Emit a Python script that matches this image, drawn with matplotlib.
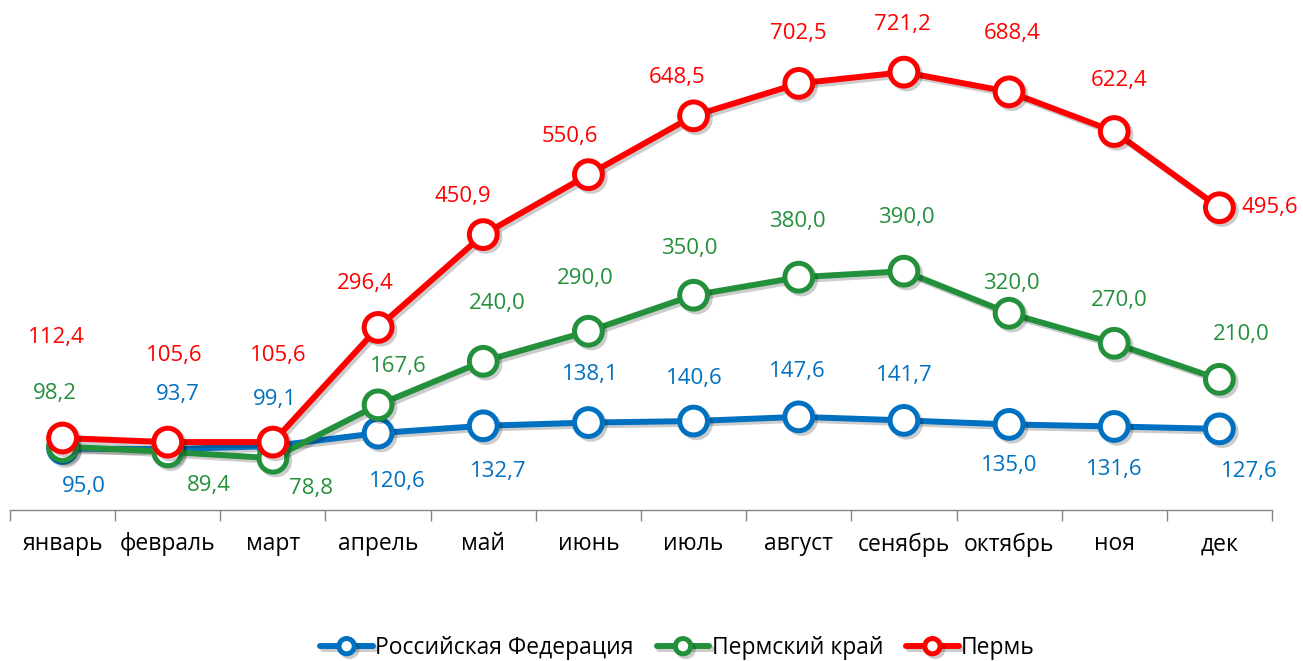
import matplotlib.pyplot as plt
import matplotlib.patheffects as pe
import numpy as np

months = ['январь', 'февраль', 'март', 'апрель', 'май', 'июнь',
          'июль', 'август', 'сенябрь', 'октябрь', 'ноя', 'дек']
rf = [95.0, 93.7, 99.1, 120.6, 132.7, 138.1, 140.6, 147.6, 141.7, 135.0, 131.6, 127.6]
perm_krai = [98.2, 89.4, 78.8, 167.6, 240.0, 290.0, 350.0, 380.0, 390.0, 320.0, 270.0, 210.0]
perm = [112.4, 105.6, 105.6, 296.4, 450.9, 550.6, 648.5, 702.5, 721.2, 688.4, 622.4, 495.6]

names = ['Российская Федерация', 'Пермский край', 'Пермь']
colors = ['#0070C0', '#23903C', '#FF0000']

# label offsets in pixels (dx, dy) relative to the marker, as Excel placed them
off_rf = [(21, -38), (10, 55), (2, 47), (19, -48), (15, -46), (2, 48),
          (1, 43), (-1, 45), (0, 45), (0, -41), (0, -43), (30, -43)]
off_krai = [(-8, 53), (41, -34), (38, -30), (20, 38), (14, 58), (-3, 53),
            (-4, 47), (-1, 56), (2, 54), (2, 30), (5, 43), (22, 45)]
off_perm = [(-6, 101), (6, 87), (5, 87), (-13, 44), (-20, 38), (-19, 38),
            (-17, 38), (0, 50), (-2, 48), (3, 58), (5, 51), (22, 0)]

plt.rcParams['font.family'] = ['Open Sans', 'DejaVu Sans']

fig = plt.figure(figsize=(13.03, 6.61), dpi=100)
W, H = 1303, 661
ax = fig.add_axes([10 / W, (H - 510) / H, 1262 / W, 490 / H])

x = np.arange(len(months))
shadow = [pe.SimpleLineShadow(offset=(2, -2), alpha=0.2, shadow_color='black'), pe.Normal()]

series = [rf, perm_krai, perm]
offsets = [off_rf, off_krai, off_perm]
for i, (vals, c, name) in enumerate(zip(series, colors, names)):
    ax.plot(x, vals, color=c, lw=4.3, marker='o', ms=20, mfc='white',
            mec=c, mew=3.6, label=name, zorder=3 + i, path_effects=shadow,
            solid_capstyle='round')
    for xi, v, (dx, dy) in zip(x, vals, offsets[i]):
        txt = ('%.1f' % v).replace('.', ',')
        last_red = (i == 2 and xi == 11)
        ax.annotate(txt, (xi, v), xytext=(dx * 0.72, dy * 0.72),
                    textcoords='offset points', ha='left' if last_red else 'center',
                    va='center', color=c, fontsize=16, zorder=10)

ax.set_xlim(-0.5, 11.5)
ax.set_ylim(-7.4, 808)
for s in ['top', 'right', 'left']:
    ax.spines[s].set_visible(False)
ax.spines['bottom'].set_color('#868686')
ax.spines['bottom'].set_linewidth(1)
ax.set_yticks([])
ax.set_xticks(x)
ax.set_xticklabels(months, fontsize=16.5)
ax.tick_params(axis='x', which='major', length=0, pad=16)
ax.set_xticks(np.arange(-0.5, 12, 1), minor=True)
ax.tick_params(axis='x', which='minor', length=8, color='#868686', width=1)

leg = fig.legend(loc='lower center', bbox_to_anchor=(0.52, -0.03), ncol=3,
                 frameon=False, fontsize=16.5, handlelength=2.3, handletextpad=0.1,
                 columnspacing=1.0, markerscale=0.55)

fig.savefig('out.png', dpi=100)
